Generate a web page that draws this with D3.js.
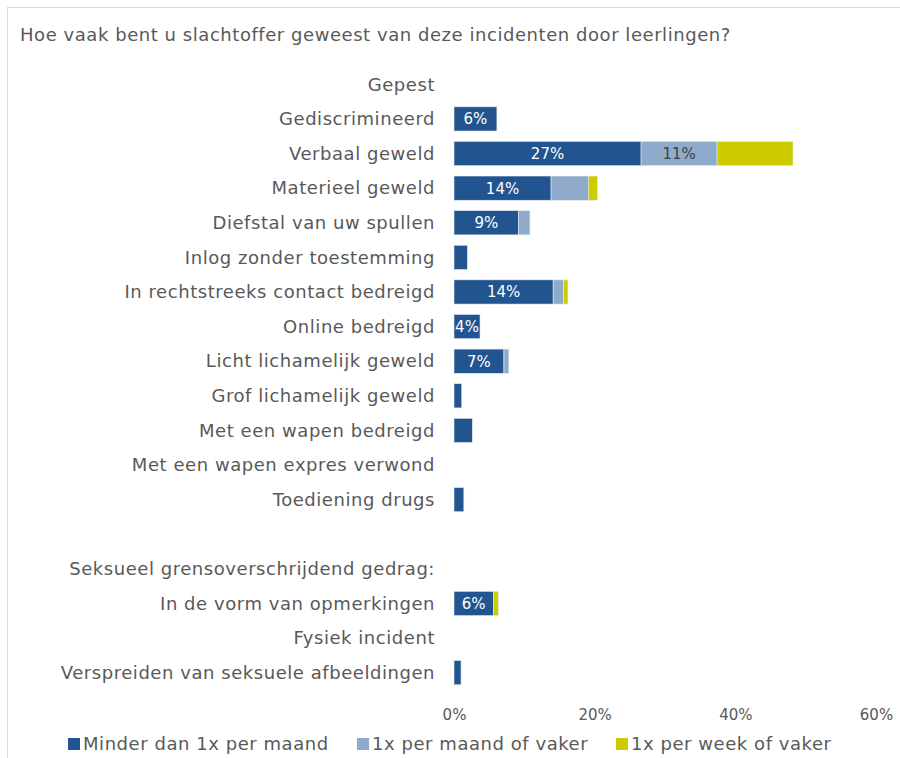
<!DOCTYPE html>
<html><head><meta charset="utf-8">
<script src="https://cdn.jsdelivr.net/npm/d3@7"></script>
<style>
html,body{margin:0;padding:0;background:#fff;}
svg{display:block;font-family:"DejaVu Sans",Verdana,sans-serif;}
.big{font-size:18px;letter-spacing:0.55px;}
</style></head>
<body><svg id="c" width="900" height="758"></svg>
<script>
const title = "Hoe vaak bent u slachtoffer geweest van deze incidenten door leerlingen?";
const categories = [
  "Gepest","Gediscrimineerd","Verbaal geweld","Materieel geweld","Diefstal van uw spullen",
  "Inlog zonder toestemming","In rechtstreeks contact bedreigd","Online bedreigd",
  "Licht lichamelijk geweld","Grof lichamelijk geweld","Met een wapen bedreigd",
  "Met een wapen expres verwond","Toediening drugs","",
  "Seksueel grensoverschrijdend gedrag:","In de vorm van opmerkingen","Fysiek incident",
  "Verspreiden van seksuele afbeeldingen"
];
const seriesNames = ["Minder dan 1x per maand","1x per maand of vaker","1x per week of vaker"];
const minderDan1xPerMaand = [0,6.1,26.6,13.8,9.2,1.9,14.1,3.7,7.1,1.1,2.6,0,1.4,0,0,5.6,0,1.0];
const eenxPerMaandOfVaker = [0,0,10.8,5.3,1.6,0,1.5,0,0.7,0,0,0,0,0,0,0,0,0];
const eenxPerWeekOfVaker  = [0,0,10.8,1.3,0,0,0.6,0,0,0,0,0,0,0,0,0.7,0,0];
const tickValues = [0,20,40,60];
const colors = ["#22558f","#8faacb","#cccc00"];
const labelMin = [3.5,10,Infinity];
const labelColors = ["#ffffff","#404040","#404040"];

const svg = d3.select("#c");
svg.append("rect").attr("x",7.5).attr("y",7.5).attr("width",900).attr("height",800)
  .attr("fill","#fff").attr("stroke","#d9d9d9").attr("stroke-width",1);

svg.append("text").attr("class","big").attr("x",20).attr("y",41).attr("fill","#595959").text(title);

const x = d3.scaleLinear().domain([0,60]).range([454,876]);
const y = d3.scaleBand().domain(d3.range(categories.length)).range([67,690]).paddingInner(0.3).paddingOuter(0.15);

const rows = categories.map((c,i)=>({c, v:[minderDan1xPerMaand[i],eenxPerMaandOfVaker[i],eenxPerWeekOfVaker[i]]}));
const stacked = d3.stack().keys([0,1,2]).value((d,k)=>d.v[k])(rows);

svg.append("g").selectAll("text").data(categories).join("text")
  .attr("class","big")
  .attr("x",435).attr("y",(d,i)=>y(i)+y.bandwidth()/2).attr("dy","0.35em")
  .attr("text-anchor","end").attr("fill","#595959").text(d=>d);

const g = svg.append("g");
stacked.forEach((layer,k)=>{
  const segs = layer.map((s,i)=>({s,i}));
  g.append("g").selectAll("rect").data(segs.filter(d=>d.s[1]-d.s[0]>0)).join("rect")
    .attr("x",d=>x(d.s[0])).attr("y",d=>y(d.i))
    .attr("width",d=>x(d.s[1])-x(d.s[0])).attr("height",y.bandwidth())
    .attr("fill",colors[k]).attr("stroke","#e4ebf3").attr("stroke-width",0.6);
  g.append("g").selectAll("text").data(segs.filter(d=>d.s[1]-d.s[0]>=labelMin[k])).join("text")
    .attr("x",d=>(x(d.s[0])+x(d.s[1]))/2).attr("y",d=>y(d.i)+y.bandwidth()/2).attr("dy","0.36em")
    .attr("text-anchor","middle").attr("font-size",15).attr("fill",labelColors[k])
    .text(d=>Math.round(d.s[1]-d.s[0])+"%");
});

const ax = svg.append("g").attr("transform","translate(0,706)")
  .call(d3.axisBottom(x).tickValues(tickValues).tickFormat(d=>d+"%").tickSize(0));
ax.select(".domain").remove();
ax.selectAll("text").attr("font-size",15).attr("fill","#595959").attr("font-family","DejaVu Sans, sans-serif").attr("dy","0.71em");

const legX = [68,357,616];
const leg = svg.append("g").selectAll("g").data(seriesNames).join("g")
  .attr("transform",(d,i)=>`translate(${legX[i]},744)`);
leg.append("rect").attr("x",0).attr("y",-6).attr("width",12).attr("height",12).attr("fill",(d,i)=>colors[i]);
leg.append("text").attr("class","big").attr("x",15).attr("y",0).attr("dy","0.35em").attr("fill","#595959").text(d=>d);
</script></body></html>
